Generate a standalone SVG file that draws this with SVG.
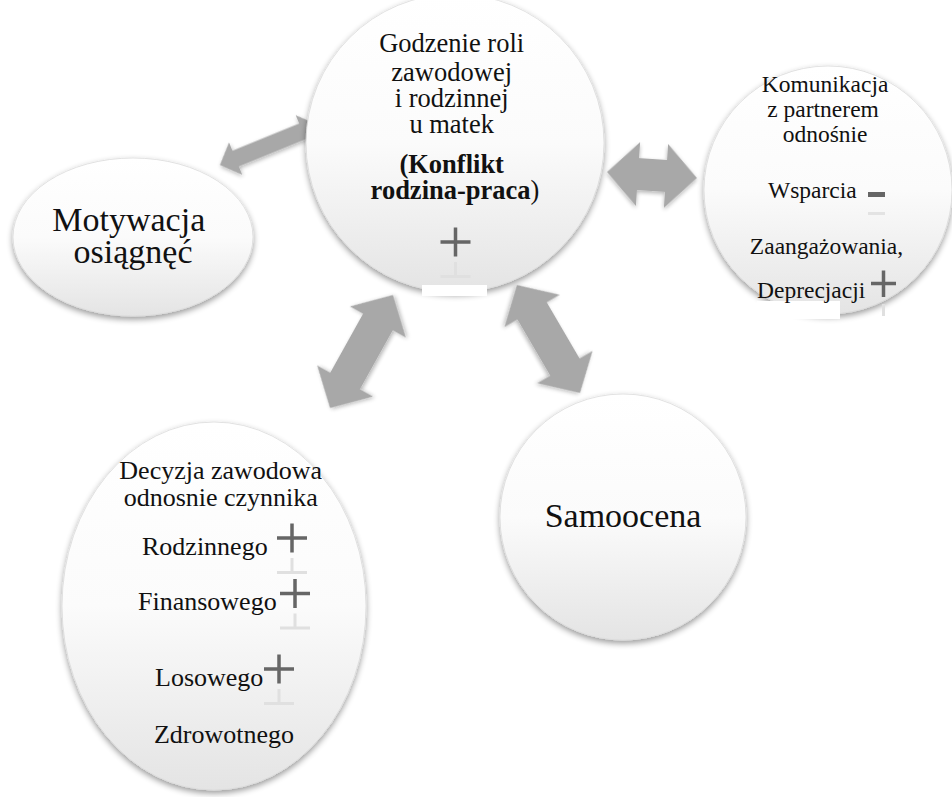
<svg xmlns="http://www.w3.org/2000/svg" width="952" height="797" viewBox="0 0 952 797">
  <defs>
    <style>
      .node { fill: url(#nodeFill); stroke: #dcdcdc; stroke-width: 0.8; filter: url(#shadow); }
      .arrow { fill: #a8a8a8; filter: url(#arrowShadow); }
      .t { font-family: "Liberation Serif", "Times New Roman", serif; fill: #111; }
      .sign { fill: none; stroke: #666; stroke-width: 3.5; }
      .refl { fill: none; stroke: #e0e0e0; stroke-width: 3; }
      .cover { fill: #ffffff; }
    </style>
    <linearGradient id="nodeFill" x1="0" y1="0" x2="0" y2="1">
      <stop offset="0" stop-color="#ffffff"/>
      <stop offset="0.5" stop-color="#fbfbfb"/>
      <stop offset="1" stop-color="#e4e4e4"/>
    </linearGradient>
    <filter id="shadow" x="-20%" y="-20%" width="140%" height="150%">
      <feGaussianBlur in="SourceAlpha" stdDeviation="3"/>
      <feOffset dy="3"/>
      <feComponentTransfer><feFuncA type="linear" slope="0.4"/></feComponentTransfer>
      <feMerge><feMergeNode/><feMergeNode in="SourceGraphic"/></feMerge>
    </filter>
    <filter id="arrowShadow" x="-30%" y="-30%" width="160%" height="160%">
      <feGaussianBlur in="SourceAlpha" stdDeviation="2"/>
      <feOffset dy="2"/>
      <feComponentTransfer><feFuncA type="linear" slope="0.3"/></feComponentTransfer>
      <feMerge><feMergeNode/><feMergeNode in="SourceGraphic"/></feMerge>
    </filter>
    <!-- plus sign and its faded reflection, centred on the origin -->
    <path id="plus" d="M-15,0H15M0,-14.5V14.5"/>
    <path id="plusRefl" d="M0,20V34M-15,34.5H15"/>
  </defs>

  <!-- connectors: double-headed block arrows -->
  <g id="connectors">
    <polygon class="arrow" transform="translate(269,145) rotate(-22.2)"
      points="-53,0 -36,-17.5 -36,-8.5 36,-8.5 36,-17.5 53,0 36,17.5 36,8.5 -36,8.5 -36,17.5"/>
    <polygon class="arrow" transform="translate(652,175) rotate(3.8)"
      points="-45,0 -14,-32 -14,-16 14,-16 14,-32 45,0 14,32 14,16 -14,16 -14,32"/>
    <polygon class="arrow" transform="translate(361.5,351.5) rotate(-60.9)"
      points="-64.7,0 -33.7,-32 -33.7,-17 33.7,-17 33.7,-32 64.7,0 33.7,32 33.7,17 -33.7,17 -33.7,32"/>
    <polygon class="arrow" transform="translate(548.5,339) rotate(59.7)"
      points="-62.5,0 -32.5,-32 -32.5,-17 32.5,-17 32.5,-32 62.5,0 32.5,32 32.5,17 -32.5,17 -32.5,32"/>
  </g>

  <!-- central node -->
  <g id="godzenie">
    <circle class="node" cx="455" cy="143" r="149"/>
    <rect class="cover" x="422" y="285" width="65" height="11"/>
    <text class="t" font-size="26.5" text-anchor="middle">
      <tspan x="455" y="52">Godzenie roli</tspan>
      <tspan x="455" y="81">zawodowej</tspan>
      <tspan x="455" y="107">i rodzinnej</tspan>
      <tspan x="455" y="133">u matek</tspan>
      <tspan x="455" y="173"><tspan font-weight="bold">(Konflikt</tspan></tspan>
      <tspan x="455" y="199"><tspan font-weight="bold">rodzina-praca</tspan>)</tspan>
    </text>
    <use href="#plus" class="sign" x="455.5" y="242"/>
    <use href="#plusRefl" class="refl" x="455.5" y="242"/>
  </g>

  <!-- left node -->
  <g id="motywacja">
    <ellipse class="node" cx="133" cy="237" rx="120" ry="79"/>
    <text class="t" font-size="34" text-anchor="middle">
      <tspan x="133" y="231">Motywacja</tspan>
      <tspan x="133" y="263">osiągnęć</tspan>
    </text>
  </g>

  <!-- right node -->
  <g id="komunikacja">
    <circle class="node" cx="828" cy="190" r="124"/>
    <rect class="cover" x="757" y="301" width="83" height="18"/>
    <text class="t" font-size="23.5" text-anchor="middle">
      <tspan x="828" y="92">Komunikacja</tspan>
      <tspan x="826" y="117">z partnerem</tspan>
      <tspan x="828" y="142">odnośnie</tspan>
      <tspan x="826.5" y="254">Zaangażowania,</tspan>
    </text>
    <text class="t" font-size="23.5" x="768" y="198">Wsparcia</text>
    <rect x="868" y="192" width="17" height="5" fill="#666"/>
    <rect x="868" y="212" width="17" height="3" fill="#e3e3e3"/>
    <text class="t" font-size="23.5" x="757" y="298">Deprecjacji</text>
    <path class="sign" d="M871,283.5H896M883.5,270.5V297"/>
    <path class="refl" d="M883.5,304V316"/>
  </g>

  <!-- bottom-left node -->
  <g id="decyzja">
    <ellipse class="node" cx="214" cy="606" rx="152" ry="184"/>
    <text class="t" font-size="26" text-anchor="middle">
      <tspan x="224" y="479">Decyzja zawodowa</tspan>
      <tspan x="224" y="506">odnosnie czynnika</tspan>
      <tspan x="224" y="743">Zdrowotnego</tspan>
    </text>
    <text class="t" font-size="26" x="142" y="555">Rodzinnego</text>
    <use href="#plus" class="sign" x="292" y="538"/>
    <use href="#plusRefl" class="refl" x="292" y="538"/>
    <text class="t" font-size="26" x="138" y="610">Finansowego</text>
    <use href="#plus" class="sign" x="295" y="593.5"/>
    <use href="#plusRefl" class="refl" x="295" y="593.5"/>
    <text class="t" font-size="26" x="155" y="686">Losowego</text>
    <use href="#plus" class="sign" x="279" y="669"/>
    <use href="#plusRefl" class="refl" x="279" y="669"/>
  </g>

  <!-- bottom-right node -->
  <g id="samoocena">
    <circle class="node" cx="623" cy="517" r="123"/>
    <text class="t" font-size="34" text-anchor="middle" x="623" y="527">Samoocena</text>
  </g>
</svg>
